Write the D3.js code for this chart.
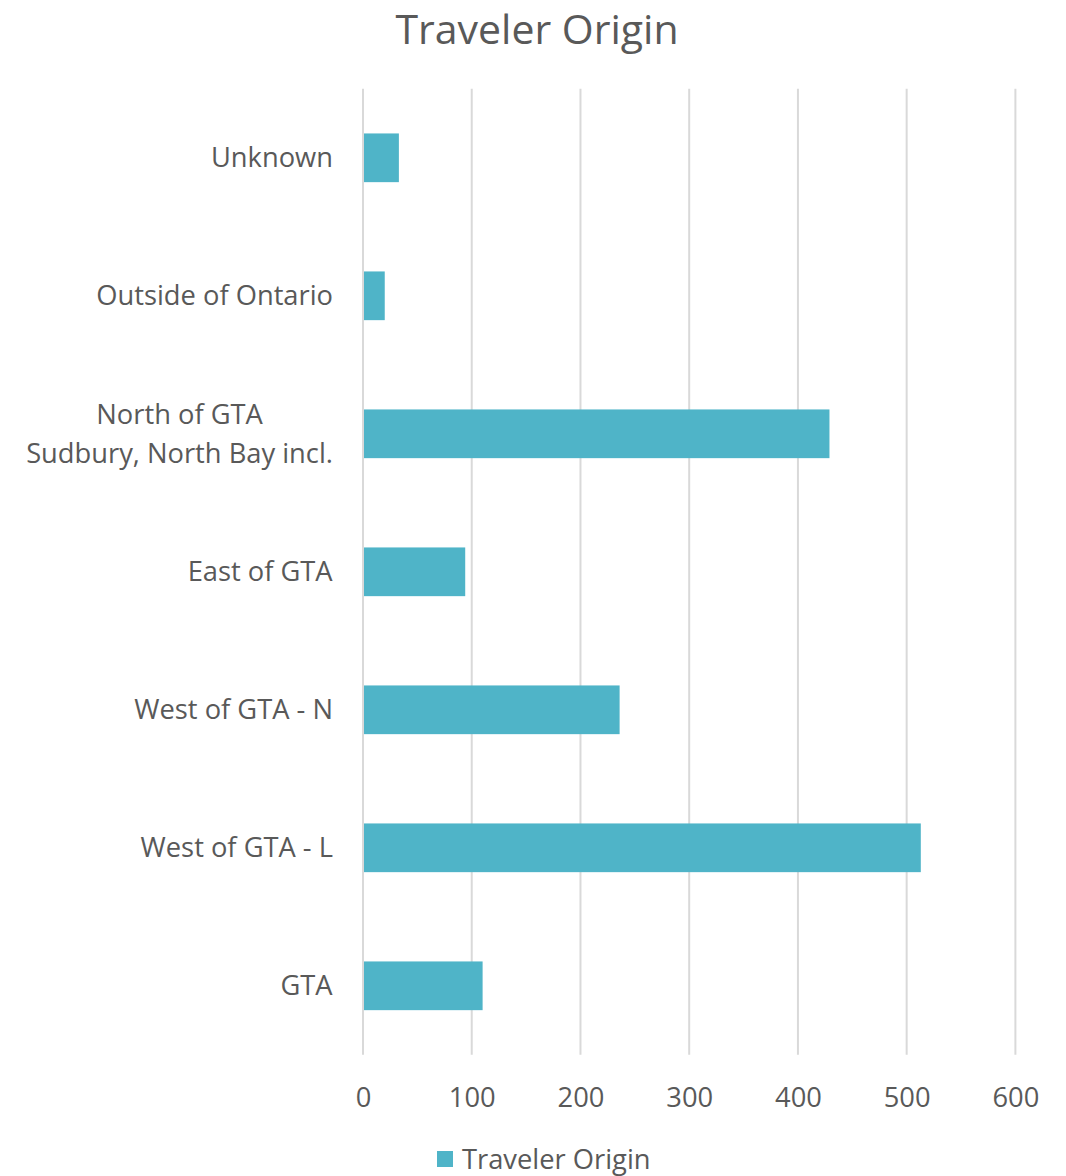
<!DOCTYPE html>
<html>
<head>
<meta charset="utf-8">
<script src="https://cdn.jsdelivr.net/npm/d3@7"></script>
<style>
  html, body { margin: 0; padding: 0; background: #fff; }
  svg { display: block; }
  text { font-family: "Open Sans", "Noto Sans", sans-serif; fill: #595959; }
</style>
</head>
<body>
<svg id="chart" width="1066" height="1176"></svg>
<script>
// Traveler origin counts, listed bottom to top as drawn
const categories = [
  "GTA",
  "West of GTA - L",
  "West of GTA - N",
  "East of GTA",
  "North of GTA\nSudbury, North Bay incl.",
  "Outside of Ontario",
  "Unknown"
];
const values = [110, 513, 236, 94, 429, 20, 33];
const xTicks = [0, 100, 200, 300, 400, 500, 600];
const seriesName = "Traveler Origin";

const svg = d3.select("#chart");
const plot = { left: 363, right: 1015.4, top: 88.8, bottom: 1054.8 };
const color = "#4fb4c8";
const fontSize = "27.3px";

const x = d3.scaleLinear().domain([0, 600]).range([plot.left, plot.right]);
const y = d3.scaleBand()
  .domain(categories.slice().reverse())
  .range([plot.top, plot.bottom])
  .paddingInner(0.647)
  .paddingOuter(0.3235);

// Title
svg.append("text")
  .attr("x", 537).attr("y", 44)
  .attr("text-anchor", "middle")
  .style("font-size", "41px")
  .text("Traveler Origin");

// Vertical gridlines
svg.append("g")
  .selectAll("line")
  .data(xTicks)
  .join("line")
  .attr("x1", d => x(d)).attr("x2", d => x(d))
  .attr("y1", plot.top).attr("y2", plot.bottom)
  .attr("stroke", "#d9d9d9")
  .attr("stroke-width", 2);

// Bars
svg.append("g")
  .selectAll("rect")
  .data(categories.map((c, i) => ({ c, v: values[i] })))
  .join("rect")
  .attr("x", x(0) + 1)
  .attr("y", d => y(d.c))
  .attr("width", d => x(d.v) - x(0) - 1)
  .attr("height", y.bandwidth())
  .attr("fill", color);

// X axis tick labels
const xAxis = d3.axisBottom(x).tickValues(xTicks).tickSize(0).tickPadding(0);
const gx = svg.append("g")
  .attr("transform", "translate(0,1107)")
  .call(xAxis);
gx.select(".domain").remove();
gx.selectAll("text")
  .attr("dy", 0)
  .style("font-size", fontSize)
  .style("font-family", '"Open Sans", "Noto Sans", sans-serif')
  .attr("fill", "#595959");

// Category labels (multi-line labels centered against each other, block right-aligned)
const labels = svg.append("g");
categories.forEach(c => {
  const lines = c.split("\n");
  const cy = y(c) + y.bandwidth() / 2;
  const lh = 39;
  const g = labels.append("g");
  const t = g.append("text")
    .attr("text-anchor", "middle")
    .style("font-size", fontSize);
  lines.forEach((ln, i) => {
    t.append("tspan")
      .attr("x", 0)
      .attr("y", cy + (i - (lines.length - 1) / 2) * lh + 9.5)
      .text(ln);
  });
  const w = t.node().getBBox().width;
  g.attr("transform", `translate(${333 - w / 2},0)`);
});

// Legend
const legend = svg.append("g");
legend.append("rect")
  .attr("x", 437).attr("y", 1151)
  .attr("width", 16).attr("height", 16)
  .attr("fill", color);
legend.append("text")
  .attr("x", 462).attr("y", 1168.5)
  .style("font-size", fontSize)
  .text(seriesName);
</script>
</body>
</html>
